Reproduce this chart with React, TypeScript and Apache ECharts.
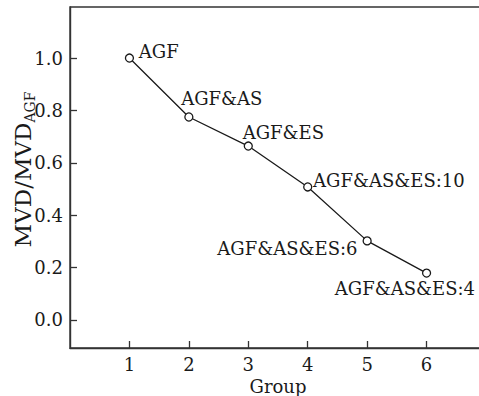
import React, { useEffect, useRef } from "react";
import * as echarts from "echarts";

const groups = [1, 2, 3, 4, 5, 6];
const ratioValues = [1.0, 0.775, 0.664, 0.508, 0.302, 0.179];
const pointLabels = ["AGF", "AGF&AS", "AGF&ES", "AGF&AS&ES:10", "AGF&AS&ES:6", "AGF&AS&ES:4"];
const yTickValues = [0, 0.2, 0.4, 0.6, 0.8, 1.0];
const xTickValues = [1, 2, 3, 4, 5, 6];

const FONT = "DejaVu Serif";
const INK = "#1a1a1a";
const AXIS = "#333";

// label placement relative to symbol box top-left (symbolSize 8 -> box origin = point - 4)
const labelPos: Array<[number, number, string]> = [
  [14, -2, "left"],
  [-3, -14, "left"],
  [-1, -9, "left"],
  [10, -2, "left"],
  [-5, 12, "right"],
  [-17, 20, "center"],
];

export default function App() {
  const ref = useRef<HTMLDivElement>(null);
  useEffect(() => {
    if (!ref.current) return;
    const chart = echarts.init(ref.current, null, { renderer: "svg" });
    const data = groups.map((g, i) => ({
      value: [g, ratioValues[i]],
      label: {
        show: true,
        formatter: pointLabels[i],
        position: [labelPos[i][0], labelPos[i][1]] as any,
        align: labelPos[i][2] as any,
        verticalAlign: "middle" as any,
      },
    }));
    chart.setOption({
      animation: false,
      backgroundColor: "#fff",
      grid: {
        left: 70,
        right: -7,
        top: 7,
        bottom: 48,
        containLabel: false,
        outerBoundsMode: "none",
        show: true,
        borderColor: AXIS,
        borderWidth: 1.4,
        backgroundColor: "transparent",
      },
      xAxis: {
        type: "value",
        min: 0,
        max: 7,
        name: "Group",
        nameLocation: "middle",
        nameGap: 28,
        nameMoveOverlap: false,
        nameTextStyle: { fontFamily: FONT, fontSize: 18, color: INK, lineHeight: 20 },
        axisLine: { show: true, onZero: false, lineStyle: { color: AXIS, width: 1.4 } },
        axisTick: {
          show: true,
          inside: true,
          length: 7,
          customValues: xTickValues,
          lineStyle: { color: AXIS, width: 1.3 },
        },
        axisLabel: {
          customValues: xTickValues,
          fontFamily: FONT,
          fontSize: 18,
          color: INK,
          margin: 7,
        },
        splitLine: { show: false },
      },
      yAxis: {
        type: "value",
        min: -0.107,
        max: 1.195,
        name: "{m|MVD/MVD}{s|AGF}",
        nameLocation: "middle",
        nameGap: 33,
        nameMoveOverlap: false,
        nameRotate: 90,
        nameTextStyle: {
          fontFamily: FONT,
          color: INK,
          rich: {
            m: { fontFamily: FONT, fontSize: 23, color: INK, lineHeight: 28, padding: [0, 0, 0, 16] },
            s: { fontFamily: FONT, fontSize: 14, color: INK, lineHeight: 24, verticalAlign: "bottom" },
          },
        },
        axisLine: { show: true, onZero: false, lineStyle: { color: AXIS, width: 1.4 } },
        axisTick: {
          show: true,
          inside: true,
          length: 7,
          customValues: yTickValues,
          lineStyle: { color: AXIS, width: 1.3 },
        },
        axisLabel: {
          customValues: yTickValues,
          formatter: (v: number) => v.toFixed(1),
          fontFamily: FONT,
          fontSize: 18,
          color: INK,
          margin: 7,
        },
        splitLine: { show: false },
      },
      series: [
        {
          type: "line",
          data,
          symbol: "circle",
          symbolSize: 8,
          showAllSymbol: true,
          lineStyle: { color: INK, width: 1.3 },
          itemStyle: { color: "#fff", borderColor: INK, borderWidth: 1.3 },
          label: { fontFamily: FONT, fontSize: 18, color: INK },
          emphasis: { disabled: true },
          z: 3,
        },
      ],
    });
    return () => chart.dispose();
  }, []);
  return (
    <div
      ref={ref}
      style={{ position: "fixed", left: 0, top: 0, width: 479, height: 396, background: "#fff" }}
    />
  );
}
